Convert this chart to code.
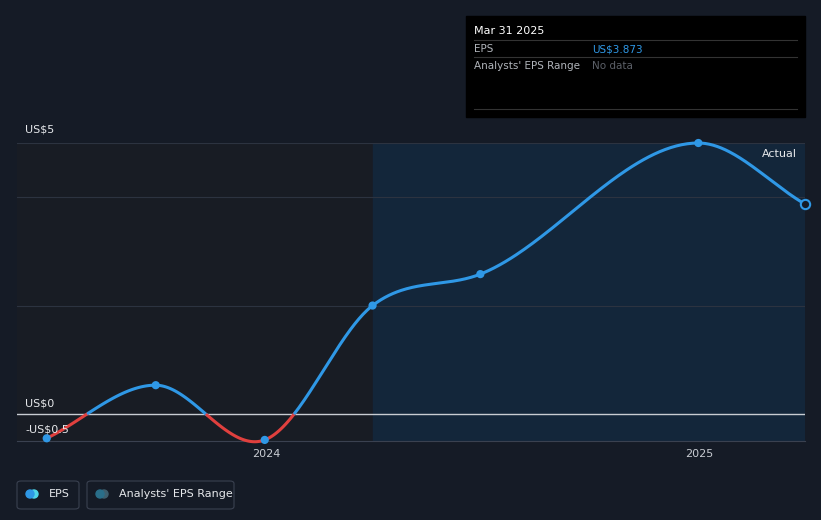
import numpy as np, pandas as pd, seaborn as sns
import matplotlib
matplotlib.use("Agg")
import matplotlib.pyplot as plt
import matplotlib.dates as mdates
from matplotlib.patches import Rectangle, FancyBboxPatch

dates = ["2023-06-30","2023-09-30","2023-12-31","2024-03-31","2024-06-30","2024-12-31","2025-03-31"]
eps = [-0.45, 0.53, -0.48, 2.0, 2.58, 5.0, 3.873]
year_ticks = ["2024-01-01","2025-01-01"]
year_labels = ["2024","2025"]

bg = "#151b26"
W, H = 821, 520
fig = plt.figure(figsize=(8.21,5.2), dpi=100, facecolor=bg)
ax = fig.add_axes([17/W, 1-441/H, (805-17)/W, (441-143)/H])
ax.set_facecolor(bg)
df = pd.DataFrame({"date": pd.to_datetime(dates), "eps": eps})
x = mdates.date2num(df["date"]); y = df["eps"].values

# smooth rendering (monotone-ish cubic Hermite through the data points)
m = np.gradient(y, x)
m[5] = 0.0
xs, ys = [], []
for i in range(len(x)-1):
    t = np.linspace(0,1,80); h = x[i+1]-x[i]
    h00=2*t**3-3*t**2+1; h10=t**3-2*t**2+t; h01=-2*t**3+3*t**2; h11=t**3-t**2
    xs.append(x[i]+t*h); ys.append(h00*y[i]+h10*h*m[i]+h01*y[i+1]+h11*h*m[i+1])
xs=np.concatenate(xs); ys=np.concatenate(ys)

xmin = x[0]-(x[1]-x[0])*30/110; xmax = x[-1]
ax.set_xlim(xmin, xmax); ax.set_ylim(-0.5, 5)
ax.axvspan(xmin, x[3], color="#181c24", zorder=0)
ax.axvspan(x[3], xmax, color="#13263a", zorder=0)
for g in [5,4,2]:
    ax.axhline(g, color="#2c3340", lw=0.8, zorder=1)
ax.axhline(0, color="#c8ccd2", lw=1, zorder=2)

neg = ys < 0
# split into runs of same sign
start = 0
for k in range(1, len(xs)+1):
    if k == len(xs) or neg[k] != neg[start]:
        end = min(k+1, len(xs))
        ax.plot(xs[start:end], ys[start:end], color="#e0403e" if neg[start] else "#2f98e6",
                lw=2.2, zorder=3, clip_on=False, solid_capstyle="round")
        start = k
sns.scatterplot(x=x[:-1], y=y[:-1], ax=ax, color="#2f98e6", s=35, edgecolor="none", zorder=4, clip_on=False)
ax.scatter([x[-1]], [y[-1]], s=45, facecolor=bg, edgecolor="#2f98e6", lw=1.5, zorder=5, clip_on=False)

ax.set_xticks(mdates.date2num(pd.to_datetime(year_ticks)))
ax.set_xticklabels(year_labels, color="#c8ccd2", fontsize=8)
ax.set_yticks([]); ax.tick_params(axis="x", length=0, pad=6)
for s in ax.spines.values(): s.set_visible(False)
ax.spines["bottom"].set_visible(True); ax.spines["bottom"].set_color("#3a4150")

tc = "#e6e8eb"
fig.text(25/W, 1-130/H, "US$5", color=tc, fontsize=8, va="center")
fig.text(25/W, 1-403/H, "US$0", color=tc, fontsize=8, va="center")
fig.text(25/W, 1-430/H, "-US$0.5", color=tc, fontsize=8, va="center")
fig.text(797/W, 1-154/H, "Actual", color=tc, fontsize=8, va="center", ha="right")

# tooltip
fig.patches.append(Rectangle((466/W, 1-117/H), 339/W, 101/H, transform=fig.transFigure, color="#000000"))
fig.text(474/W, 1-31/H, "Mar 31 2025", color="#ffffff", fontsize=8, va="center")
for yy_ in [40, 57, 109]:
    fig.lines.append(plt.Line2D([474/W, 797/W], [1-yy_/H]*2, transform=fig.transFigure, color="#333333", lw=0.8))
fig.text(474/W, 1-49/H, "EPS", color="#b0b4ba", fontsize=7.5, va="center")
fig.text(592/W, 1-49/H, "US$3.873", color="#2f98e6", fontsize=7.5, va="center")
fig.text(474/W, 1-66/H, "Analysts' EPS Range", color="#b0b4ba", fontsize=7.5, va="center")
fig.text(592/W, 1-66/H, "No data", color="#5c6068", fontsize=7.5, va="center")

# legend
for (x0, w, lab, c1, c2) in [(17, 62, "EPS", "#2f98e6", "#4fd6e8"), (87, 147, "Analysts' EPS Range", "#2a6f8a", "#3f5f6e")]:
    fig.patches.append(FancyBboxPatch((x0/W, 1-509/H), w/W, 28/H, boxstyle="round,pad=0,rounding_size=0.005",
                       transform=fig.transFigure, facecolor="none", edgecolor="#3a4150", lw=0.8))
    fig.patches.append(matplotlib.patches.Ellipse(((x0+17)/W, 1-494/H), 8/W, 8/H, transform=fig.transFigure, color=c2))
    fig.patches.append(matplotlib.patches.Ellipse(((x0+13)/W, 1-494/H), 8/W, 8/H, transform=fig.transFigure, color=c1))
    fig.text((x0+32)/W, 1-494/H, lab, color=tc, fontsize=8, va="center")

fig.savefig("out.png", dpi=100, facecolor=bg)
